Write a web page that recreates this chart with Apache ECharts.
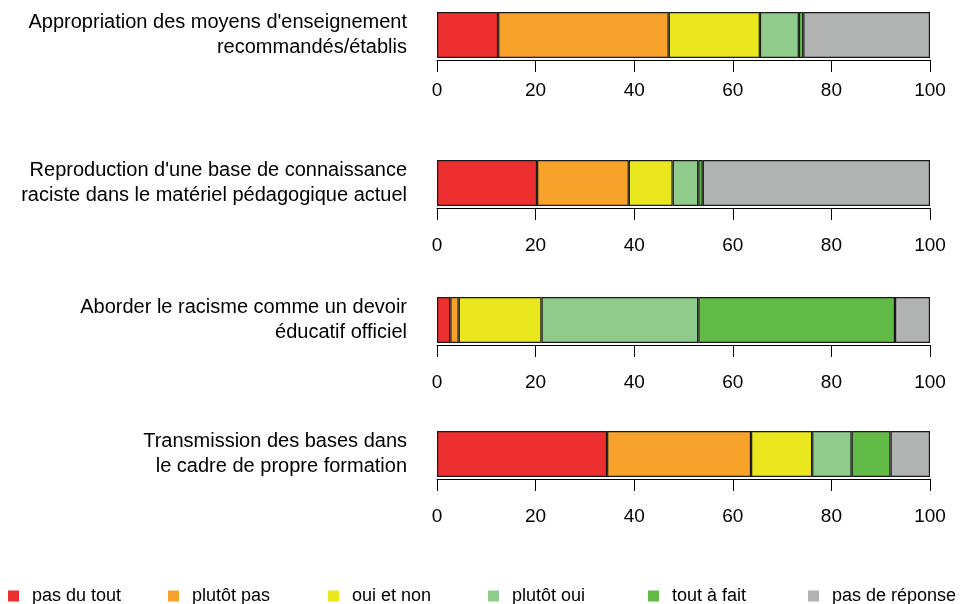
<!DOCTYPE html>
<html>
<head>
<meta charset="utf-8">
<script src="https://cdn.jsdelivr.net/npm/echarts@6/dist/echarts.min.js"></script>
<style>
html,body{margin:0;padding:0;background:#fff;}
#c{width:963px;height:604px;}
</style>
</head>
<body>
<div id="c"></div>
<script>
const categories = [
  "Appropriation des moyens d'enseignement\nrecommandés/établis",
  "Reproduction d'une base de connaissance\nraciste dans le matériel pédagogique actuel",
  "Aborder le racisme comme un devoir\néducatif officiel",
  "Transmission des bases dans\nle cadre de propre formation"
];
const seriesNames = ["pas du tout", "plutôt pas", "oui et non", "plutôt oui", "tout à fait", "pas de réponse"];
const pasDuTout    = [12.4, 20.3, 2.7, 34.5];
const plutotPas    = [34.6, 18.6, 1.7, 29.2];
const ouiEtNon     = [18.5, 8.9, 16.8, 12.4];
const plutotOui    = [7.9, 5.2, 31.8, 8.0];
const toutAFait    = [0.9, 0.9, 39.9, 7.9];
const pasDeReponse = [25.7, 46.1, 7.1, 8.0];
const tickValues = [0, 20, 40, 60, 80, 100];

const values = [pasDuTout, plutotPas, ouiEtNon, plutotOui, toutAFait, pasDeReponse];
const colors = ['#EE2F2F', '#F7A22A', '#EAE71E', '#8FCC8B', '#62BA47', '#B1B3B3'];
const FONT = 'Liberation Sans';
const panelTops = [12, 160, 297, 431];
const labelMargins = [21, 28, 28, 28];
const barH = 46;

const grids = [], xAxes = [], yAxes = [], series = [], legends = [];
categories.forEach((cat, i) => {
  grids.push({left: 437, width: 493, top: panelTops[i], height: barH});
  xAxes.push({
    type: 'value', gridIndex: i, min: tickValues[0], max: tickValues[tickValues.length - 1],
    interval: tickValues[1] - tickValues[0], offset: 2,
    splitLine: {show: false},
    axisLine: {show: true, lineStyle: {color: '#000', width: 1}},
    axisTick: {show: true, length: 12, lineStyle: {color: '#000', width: 1}},
    axisLabel: {color: '#000', fontSize: 19, fontFamily: FONT, margin: labelMargins[i]}
  });
  yAxes.push({
    type: 'category', gridIndex: i, data: [cat],
    axisLine: {show: false}, axisTick: {show: false},
    axisLabel: {color: '#000', fontSize: 20, lineHeight: 25, fontFamily: FONT, margin: 30, align: 'right'}
  });
  seriesNames.forEach((name, k) => {
    series.push({
      type: 'bar', name: name, xAxisIndex: i, yAxisIndex: i, stack: 'p' + i,
      barWidth: barH, data: [values[k][i]],
      itemStyle: {color: colors[k], borderColor: '#1a1a1a', borderWidth: 1.2},
      emphasis: {disabled: true}, animation: false
    });
  });
});
seriesNames.forEach((name, k) => {
  legends.push({
    data: [name], left: 8 + 160 * k, top: 587, icon: 'rect', itemWidth: 11, itemHeight: 11,
    padding: 0, itemStyle: {borderWidth: 0},
    textStyle: {color: '#000', fontSize: 18, fontFamily: FONT, padding: [0, 0, 0, 8]},
    selectedMode: false
  });
});

const chart = echarts.init(document.getElementById('c'), null, {renderer: 'canvas'});
chart.setOption({
  animation: false,
  backgroundColor: '#fff',
  grid: grids, xAxis: xAxes, yAxis: yAxes, series: series, legend: legends
});
</script>
</body>
</html>
